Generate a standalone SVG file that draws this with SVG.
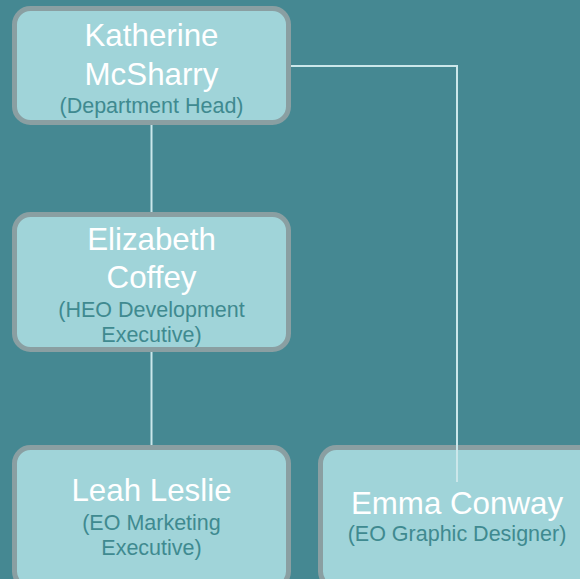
<svg xmlns="http://www.w3.org/2000/svg" width="580" height="579" viewBox="0 0 580 579">
<style>
.node{fill:#A0D4D9;stroke:#8A9FA2;stroke-width:5}
.name{font-family:"Liberation Sans",Arial,sans-serif;font-size:31.3px;fill:#FFFFFF;text-anchor:middle}
.role{font-family:"Liberation Sans",Arial,sans-serif;font-size:21.5px;fill:#3F8A90;text-anchor:middle}
.conn{fill:none;stroke:#CBE7EA;stroke-width:2}
</style>
<rect width="580" height="579" fill="#458892"/>
<g id="node-katherine">
<rect class="node" x="14.5" y="8.5" width="274" height="114" rx="16"/>
<text class="name" x="151.5" y="45.5">Katherine</text>
<text class="name" x="151.5" y="84.5">McSharry</text>
<text class="role" x="151.5" y="112.5">(Department Head)</text>
</g>
<g id="node-elizabeth">
<rect class="node" x="14.5" y="214.5" width="274" height="135" rx="16"/>
<text class="name" x="151.5" y="249.5">Elizabeth</text>
<text class="name" x="151.5" y="288">Coffey</text>
<text class="role" x="151.5" y="316.5">(HEO Development</text>
<text class="role" x="151.5" y="341.5">Executive)</text>
</g>
<g id="node-leah">
<rect class="node" x="14.5" y="447.5" width="274" height="140" rx="16"/>
<text class="name" x="151.5" y="501">Leah Leslie</text>
<text class="role" x="151.5" y="530">(EO Marketing</text>
<text class="role" x="151.5" y="555">Executive)</text>
</g>
<g id="node-emma">
<rect class="node" x="320.5" y="447.5" width="274" height="140" rx="16"/>
<text class="name" x="457" y="513.5">Emma Conway</text>
<text class="role" x="457" y="541">(EO Graphic Designer)</text>
</g>
<g id="connectors">
<line class="conn" x1="151.5" y1="125" x2="151.5" y2="212"/>
<line class="conn" x1="151.5" y1="352" x2="151.5" y2="445"/>
<polyline class="conn" points="291,66 457,66 457,482"/>
</g>
</svg>
